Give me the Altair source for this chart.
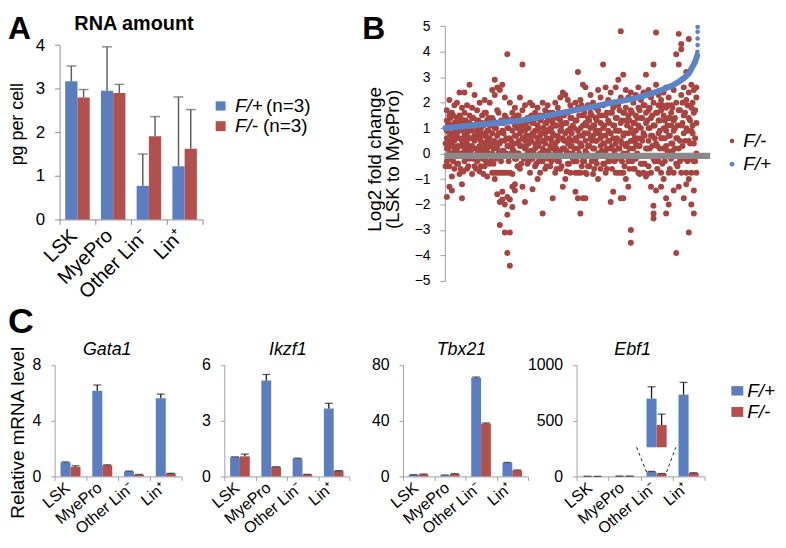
import altair as alt
import pandas as pd

FONT = "Liberation Sans"
BLUE = "#5A7EC0"
RED = "#B3504D"
DOT_RED = "#A8433F"
DOT_BLUE = "#5B83C6"
AXIS_GRAY = "#A0A0A0"
W, H = 776, 532
OX, OY = 8, 8


def px(x):
    return x - OX


def py(y):
    return y - OY


categories = ["LSK", "MyePro", "Other Lin⁻", "Lin⁺"]
genotypes = ["F/+", "F/-"]
color_scale = alt.Scale(domain=genotypes, range=[BLUE, RED])

# ---------------- Panel A : RNA amount ----------------
a_mean_fp = [3.17, 2.95, 0.77, 1.22]
a_upper_fp = [3.52, 3.96, 1.50, 2.81]
a_mean_fm = [2.80, 2.90, 1.91, 1.62]
a_upper_fm = [2.98, 3.10, 2.36, 2.52]

# ---------------- Panel C : relative mRNA ----------------
gata1_fp = [1.00, 6.14, 0.35, 5.60]
gata1_fp_up = [1.04, 6.55, 0.38, 5.90]
gata1_fm = [0.68, 0.80, 0.12, 0.20]
gata1_fm_up = [0.76, 0.83, 0.14, 0.22]

ikzf1_fp = [1.03, 5.15, 0.96, 3.65]
ikzf1_fp_up = [1.05, 5.48, 0.98, 3.93]
ikzf1_fm = [1.08, 0.50, 0.10, 0.30]
ikzf1_fm_up = [1.20, 0.52, 0.11, 0.31]

tbx21_fp = [1.0, 0.7, 70.5, 9.7]
tbx21_fp_up = [1.3, 1.0, 71.2, 10.0]
tbx21_fm = [1.4, 1.7, 37.8, 4.3]
tbx21_fm_up = [1.7, 2.0, 38.3, 4.6]

ebf1_fp = [1.0, 3.0, 42.0, 733.0]
ebf1_fp_up = [1.5, 3.5, 45.0, 842.0]
ebf1_fm = [0.3, 3.0, 24.0, 30.0]
ebf1_fm_up = [0.5, 3.5, 26.0, 33.0]

# inset (zoom of Other Lin- in Ebf1)
inset_base = 261.0
inset_top = [697.0, 460.0]
inset_up = [803.0, 558.0]
inset_line_bottom_x = [2.185, 2.815]
inset_line_top_x = [1.875, 3.10]
inset_line_bottom_y = 40.0

# ---------------- Panel B : scatter ----------------
blue_rank = [0, 10, 20, 30, 40, 50, 60, 65, 70, 75, 80, 85, 90, 93, 95, 96.5, 97.5, 98.5, 99.0, 99.5, 99.8]
blue_val = [1.00, 1.10, 1.20, 1.30, 1.48, 1.68, 1.87, 1.98, 2.07, 2.17, 2.30, 2.47, 2.67, 2.85, 3.00, 3.15, 3.33, 3.50, 3.60, 3.75, 3.85]
blue_tail_rank = [99.9, 100, 100, 100, 100]
blue_tail_val = [4.00, 4.26, 4.52, 4.78, 4.97]

red_bins = [
    [1.7, 0.9, 0.2, -0.3, -1.7, 0.6, 1.3],
    [2.1, 1.5, 0.4, -0.5, -1.3, 0.0, 0.8],
    [1.6, 1.1, 0.3, -0.9, -1.45, 0.7, -0.2],
    [1.9, 0.5, 1.2, 0.1, -0.6, 0.9],
    [1.4, 2.0, 0.2, -0.4, 0.8, 1.0, -0.1],
    [2.4, 1.2, 0.6, 0.0, -0.8, 1.5],
    [1.8, 0.3, -1.2, -1.75, 0.9, 0.5, 1.1],
    [2.4, 1.3, 0.7, -0.3, 0.1, 1.6],
    [1.0, 0.4, -0.6, 1.9, 0.2, 0.8],
    [2.7, 1.5, 0.6, -0.2, 1.2, 0.0],
    [1.8, 0.9, 0.3, -0.8, 1.4, -0.1],
    [2.3, 1.1, 0.5, -0.5, 0.7],
    [1.7, 0.2, 1.3, -0.3, 0.9, 0.0],
    [2.0, 0.6, -0.7, 1.0, 0.3],
    [1.5, 0.1, 0.8, -0.2, 1.2],
    [2.1, 0.4, 1.6, -0.5, 0.7, 0.0],
    [1.3, 0.9, 0.2, -0.9, 0.5],
    [2.0, 1.1, 0.3, -0.4, 0.6],
    [2.5, 1.4, 0.0, 0.8, -0.75],
    [2.9, 2.3, 0.5, -0.75, 1.0, -1.0],
    [2.6, 1.7, 0.2, -0.75, -1.6, 0.7],
    [2.5, 1.2, -0.75, -1.9, -2.8, 0.4],
    [2.7, 0.9, -0.75, -1.5, -1.8, 0.1],
    [2.2, 1.5, -0.75, -2.0, -3.1, 0.5],
    [3.9, 1.0, -0.75, -1.7, -2.4, -3.9, 0.3],
    [2.0, 0.6, -0.75, -1.8, -4.4, -3.1, 1.3],
    [1.6, 0.2, -0.8, -1.3, -2.1, 0.9],
    [1.8, 0.7, -0.2, -1.2, -1.45, 1.1],
    [1.5, 0.4, -0.5, 1.0, 0.0],
    [2.2, 1.2, 0.3, -0.6, 0.8],
    [3.5, 1.7, 0.6, -0.1, -1.3, 1.1],
    [1.9, 0.9, 0.2, -1.9, 0.5],
    [1.4, 0.5, -0.4, 1.0, 0.0],
    [2.0, 1.3, 0.1, -0.75, 0.7],
    [1.9, 0.8, -0.2, -1.4, 1.2],
    [1.6, 0.4, 0.9, -0.5, 0.2],
    [1.8, 1.1, 0.3, -1.0, 0.6],
    [1.5, 0.7, 0.0, -0.75, 1.3],
    [2.0, 0.5, -2.35, -0.3, 1.0, 0.2],
    [1.7, 1.2, 0.4, -0.6, 0.8],
    [1.9, 0.9, 0.1, -0.2, 1.4],
    [1.3, 0.6, -0.5, 0.3, 1.0],
    [1.6, 0.2, -1.75, 0.8, 1.2],
    [2.0, 1.1, 0.4, -0.75, 0.0],
    [1.8, 0.7, -0.3, 1.4, 0.5],
    [2.2, 1.3, 0.1, -0.6, 0.9],
    [2.4, 1.5, 0.6, -1.3, 0.2],
    [2.3, 0.8, -0.1, -1.0, 1.2],
    [2.1, 1.6, 0.4, -0.4, 0.9],
    [1.9, 1.0, 0.3, -0.75, 1.4],
    [1.7, 0.5, -0.2, 1.1, 0.0],
    [2.0, 1.3, 0.6, -0.75, -1.5],
    [3.2, 1.8, 0.9, 0.2, -0.75, -1.75],
    [2.1, 1.0, 0.4, -0.75, -2.35],
    [2.7, 1.5, 0.7, -0.3, -1.75, 1.1],
    [2.6, 1.2, 0.1, -0.75, -1.75, 0.5],
    [1.9, 0.8, 1.4, -0.5, 0.3],
    [2.3, 1.6, 0.6, -0.1, 1.0],
    [2.0, 1.1, 0.2, -0.8, 0.7],
    [1.8, 1.4, 0.5, -0.2, 0.9],
    [2.5, 1.7, 0.8, 0.0, -1.0],
    [2.2, 1.2, 0.3, -0.6, 0.6],
    [3.5, 1.9, 1.0, -0.4, 0.4],
    [2.6, 1.5, 0.7, 0.1, -0.75],
    [2.1, 0.9, 1.3, -0.3, 0.5],
    [2.4, 1.6, 0.2, -1.9, 0.8],
    [1.8, 1.1, 0.6, -1.5, -0.1],
    [2.6, 1.4, 0.4, -0.75, 0.9],
    [2.9, 1.9, 0.9, -0.75, 0.2],
    [4.8, 2.2, 1.2, -0.75, -1.75, 0.5],
    [3.1, 1.6, 0.7, -0.75, -1.75, 0.0],
    [2.5, 1.3, 0.3, -1.0, 1.8],
    [2.2, 0.8, -0.3, -1.3, 1.5],
    [2.4, 1.7, 0.5, -3.0, -3.5, 1.0],
    [2.0, 1.2, 0.2, -0.6, 0.8],
    [2.3, 1.5, 0.9, -0.2, 0.4],
    [2.6, 1.8, 1.1, 0.3, -0.75],
    [2.1, 1.4, 0.6, -0.4, 1.0],
    [2.4, 1.9, 0.8, -0.1, -0.75],
    [3.1, 1.6, 1.2, 0.2, -0.9],
    [2.5, 1.0, 0.5, -0.5, 1.7],
    [2.2, 1.4, 0.7, -0.75, -1.3],
    [3.5, 2.0, 1.1, -0.2, -2.05, -2.35, -2.55],
    [4.75, 2.7, 1.6, 0.4, -1.45],
    [2.3, 1.3, 0.8, -0.3, 1.9],
    [2.1, 1.7, 0.6, -0.75, -1.3],
    [2.4, 1.0, 1.5, -1.0, 0.2],
    [2.6, 1.8, 0.3, -1.75, -2.35, 0.9],
    [2.2, 1.4, 0.7, -0.75, -2.0],
    [1.9, 1.1, 0.4, -0.2, 1.6],
    [2.5, 0.9, 1.3, -0.75, -1.45],
    [3.9, 2.0, 0.6, -0.4, -3.9],
    [4.7, 3.5, 1.7, 0.2, -1.3],
    [4.3, 4.1, 2.3, 1.1, -0.75],
    [2.6, 1.5, 0.8, -0.1, -1.75],
    [3.2, 2.1, 1.0, -0.75, -1.2],
    [4.5, 2.4, 1.4, 0.5, -3.1, -1.0],
    [2.7, 1.8, 0.9, -0.75, -2.0],
    [2.5, 1.6, 0.4, -0.3, -2.35, -1.45],
    [2.6, 2.2, 1.2, 0.0, -0.75],
]
# second set of red points of the dense core (plotted between the ranks above)
red_bins_core = [
    [0.4, 1.0, -0.5], [1.2, 0.2, -0.2], [0.5, 1.4, 0.0], [0.3, 1.5, -0.3], [0.6, 1.2, 0.1],
    [0.3, 0.9, -0.4], [1.4, 0.0, -0.6], [0.4, 1.0, -0.7], [1.3, 0.6, -0.2], [0.9, 0.3, -0.5],
    [0.6, 1.1, 0.1], [1.4, 0.2, -0.2], [0.6, 1.1, -0.6], [1.3, 0.1, 0.8], [0.5, 1.0, -0.5],
    [1.1, 0.2, -0.8], [1.6, 0.7, -0.3], [1.4, 0.9, 0.0], [1.1, 0.4, -0.3], [0.2, 1.3, -0.4],
    [1.0, 0.4, -0.2], [0.8, 0.0, 1.6], [0.5, 1.3, -0.3], [0.8, 0.1, 1.2], [0.6, 1.4, 0.0],
    [0.3, 1.0, -0.3], [0.5, 1.3, 0.0], [0.4, 1.4, 0.1], [0.7, 1.3, -0.2], [0.5, 1.5, 0.0],
    [0.9, 0.3, -0.4], [1.3, 0.6, -0.2], [0.7, 1.2, 0.3], [0.4, 1.0, -0.3], [0.5, 1.5, 0.1],
    [1.2, 0.7, 0.0], [0.9, 1.4, -0.4], [0.4, 1.0, -0.3], [0.8, 1.4, -0.1], [1.5, 0.1, 1.0],
    [0.6, 1.2, -0.5], [0.9, 0.0, 1.6], [0.5, 1.0, -0.3], [0.7, 1.4, -0.2], [1.1, 0.2, -0.6],
    [0.6, 1.6, -0.3], [0.9, 1.1, -0.5], [0.5, 1.5, 0.2], [1.2, 0.1, -0.7], [0.6, 0.0, -0.4],
    [0.8, 1.4, 0.3], [1.0, 0.2, -0.3], [0.5, 1.3, -0.3], [1.5, 0.7, 0.0], [0.3, 1.9, -0.5],
    [0.8, 1.6, -0.3], [1.1, 0.0, -0.8], [0.3, 1.3, -0.5], [1.5, 0.5, -0.3], [0.2, 1.1, -0.6],
    [0.5, 1.3, -0.4], [1.5, 0.9, 0.0], [1.5, 0.7, 0.1], [1.1, 0.4, -0.4], [1.6, 0.2, -0.6],
    [1.2, 0.5, -0.3], [1.6, 0.3, -0.6], [1.1, 0.1, -0.3], [1.4, 0.6, -0.2], [1.7, 0.9, 0.2],
    [1.3, 0.4, -0.3], [0.8, 1.6, -0.5], [1.1, 0.4, 0.0], [1.3, 0.2, -0.6], [1.6, 0.5, -0.3],
    [1.2, 0.6, -0.6], [1.4, 0.6, 0.0], [1.7, 0.3, -0.8], [1.4, 0.5, -0.4], [1.9, 0.7, -0.4],
    [1.3, 0.2, -0.8], [1.8, 1.0, 0.2], [1.5, 0.7, 0.3], [1.1, 0.6, -0.3], [1.6, 0.3, -0.6],
    [1.3, 0.9, 0.2], [1.9, 0.6, -0.4], [1.3, 0.6, -0.3], [1.9, 1.1, 0.1], [1.4, 0.7, -0.6],
    [1.8, 0.4, 0.1], [1.4, 1.0, 0.2], [1.1, 0.6, -0.5], [1.7, 0.5, -0.3], [2.0, 1.2, 0.3],
    [1.6, 0.5, -0.2], [1.9, 0.9, -0.3], [1.3, 0.4, -0.2], [2.0, 1.1, 0.8], [1.7, 0.6, -0.3],
]
zero_line_x = [-0.5, 105.0]
zero_line_y = [-0.09, -0.09]


# ---------------- helpers ----------------
def text(t, x, y, size, weight="normal", style="normal", angle=0, align="left", baseline="middle"):
    return alt.Chart(pd.DataFrame({"t": [t]})).mark_text(
        font=FONT, fontSize=size, fontWeight=weight, fontStyle=style,
        angle=angle, align=align, baseline=baseline, color="black"
    ).encode(text="t:N", x=alt.value(x), y=alt.value(y))


def rect(x0, x1, y0, y1, color):
    return alt.Chart(pd.DataFrame({"a": [0]})).mark_rect(color=color).encode(
        x=alt.value(x0), x2=alt.value(x1), y=alt.value(y0), y2=alt.value(y1))


def dot(x, y, color, size):
    return alt.Chart(pd.DataFrame({"a": [0]})).mark_circle(color=color, size=size, opacity=1).encode(
        x=alt.value(x), y=alt.value(y))


def bar_panel(fp, fp_up, fm, fm_up, x0, x1, ytop, ybot, ydom, yticks, off_pad,
              lab_size, xlab_size, tick_len, err_color, err_w, cap_w, axis_color,
              xlab_angle, xlab_offset, xlab_pad, extra=None):
    df = pd.DataFrame({
        "cat": categories * 2,
        "geno": [genotypes[0]] * 4 + [genotypes[1]] * 4,
        "val": fp + fm,
        "up": fp_up + fm_up,
    })
    xs = alt.Scale(domain=categories, range=[px(x0), px(x1)], paddingInner=0, paddingOuter=0)
    xo = alt.Scale(domain=genotypes, paddingInner=0, paddingOuter=off_pad)
    ys = alt.Scale(domain=ydom, range=[py(ybot), py(ytop)], nice=False, zero=False)
    xax = alt.Axis(orient="bottom", offset=py(ybot) - H, title=None, labelAngle=xlab_angle,
                   labelAlign="right", labelBaseline="middle", labelOffset=xlab_offset,
                   tickBand="extent", tickSize=tick_len, labelFontSize=xlab_size, labelFont=FONT,
                   labelColor="black", domainColor=axis_color, tickColor=axis_color,
                   labelPadding=xlab_pad, grid=False, labelOverlap=False)
    yax = alt.Axis(orient="left", offset=-px(x0), title=None, values=yticks, tickSize=tick_len,
                   labelFontSize=lab_size, labelFont=FONT, labelColor="black", format="d",
                   domainColor=axis_color, tickColor=axis_color, labelPadding=10, grid=False)
    X = alt.X("cat:N", scale=xs, sort=categories, axis=xax)
    XO = alt.XOffset("geno:N", scale=xo, sort=genotypes)
    col = alt.Color("geno:N", scale=color_scale, legend=None)
    base = alt.Chart(df)
    bars = base.mark_bar().encode(x=X, xOffset=XO, y=alt.Y("val:Q", scale=ys, axis=yax), color=col)
    rules = base.mark_rule(color=err_color, strokeWidth=err_w).encode(
        x=X, xOffset=XO, y=alt.Y("val:Q", scale=ys, axis=yax), y2="up:Q")
    caps = base.mark_tick(color=err_color, thickness=err_w, size=cap_w).encode(
        x=X, xOffset=XO, y=alt.Y("up:Q", scale=ys, axis=yax))
    layers = [bars, rules, caps]
    if extra is not None:
        idf = pd.DataFrame({"cat": [categories[2]] * 2, "geno": genotypes,
                            "top": inset_top, "base": [inset_base] * 2, "up": inset_up})
        ib = alt.Chart(idf)
        layers += [
            ib.mark_bar().encode(x=X, xOffset=XO, y=alt.Y("top:Q", scale=ys, axis=yax), y2="base:Q", color=col),
            ib.mark_rule(color=err_color, strokeWidth=err_w).encode(
                x=X, xOffset=XO, y=alt.Y("top:Q", scale=ys, axis=yax), y2="up:Q"),
            ib.mark_tick(color=err_color, thickness=err_w, size=cap_w).encode(
                x=X, xOffset=XO, y=alt.Y("up:Q", scale=ys, axis=yax)),
        ]
    return alt.layer(*layers)


# ---------------- Panel A ----------------
panelA = bar_panel(a_mean_fp, a_upper_fp, a_mean_fm, a_upper_fm, 60, 204, 43.3, 219, [0, 4],
                   [0, 1, 2, 3, 4], 0.457, 17, 20, 5, "#606060", 1.5, 10, "#8C8C8C",
                   xlab_angle=-45, xlab_offset=-4, xlab_pad=8)

# ---------------- Panel B ----------------
red_rank, red_val = [], []
for i, vals in enumerate(red_bins):
    for v in vals:
        red_rank.append(i + 0.5)
        red_val.append(v)
for i, vals in enumerate(red_bins_core):
    for v in vals:
        red_rank.append(i + 0.0)
        red_val.append(v)
red_df = pd.DataFrame({"rank": red_rank, "val": red_val})
blue_df = pd.DataFrame({"rank": blue_rank, "val": blue_val})
tail_df = pd.DataFrame({"rank": blue_tail_rank, "val": blue_tail_val})
zero_df = pd.DataFrame({"rank": zero_line_x, "val": zero_line_y})

bx = alt.Scale(domain=[0, 100], range=[px(449), px(703)], nice=False, zero=False)
by = alt.Scale(domain=[-5, 5], range=[py(281), py(24.3)], nice=False, zero=False)
byax = alt.Axis(orient="left", offset=-px(448.3), title=None, values=list(range(-5, 6)), tickSize=5,
                labelFontSize=14, labelFont=FONT, labelColor="black", domainColor=AXIS_GRAY,
                tickColor=AXIS_GRAY, labelPadding=10, grid=False)
BX = alt.X("rank:Q", scale=bx, axis=None)
BY = alt.Y("val:Q", scale=by, axis=byax)
b_red = alt.Chart(red_df).mark_circle(size=36, opacity=1, color=DOT_RED).encode(x=BX, y=BY)
b_zero = alt.Chart(zero_df).mark_line(color="#8A8A8A", strokeWidth=6.5).encode(x=BX, y=BY)
b_blue = alt.Chart(blue_df).mark_line(color=DOT_BLUE, strokeWidth=6, strokeCap="round").encode(x=BX, y=BY)
b_tail = alt.Chart(tail_df).mark_circle(size=22, opacity=1, color=DOT_BLUE).encode(x=BX, y=BY)
panelB = alt.layer(b_red, b_zero, b_blue, b_tail)

# ---------------- Panel C ----------------
CT, CB = 365.5, 478
common = dict(off_pad=0.59, lab_size=16, xlab_size=16, tick_len=4, err_color="#1A1A1A",
              err_w=1.3, cap_w=8, axis_color=AXIS_GRAY, xlab_angle=-40, xlab_offset=-3, xlab_pad=5)
c1 = bar_panel(gata1_fp, gata1_fp_up, gata1_fm, gata1_fm_up, 55, 183, CT, CB, [0, 8], [0, 4, 8], **common)
c2 = bar_panel(ikzf1_fp, ikzf1_fp_up, ikzf1_fm, ikzf1_fm_up, 226, 352, CT, CB, [0, 6], [0, 3, 6], **common)
c3 = bar_panel(tbx21_fp, tbx21_fp_up, tbx21_fm, tbx21_fm_up, 406, 532, CT, CB, [0, 80], [0, 40, 80], **common)
c4 = bar_panel(ebf1_fp, ebf1_fp_up, ebf1_fm, ebf1_fm_up, 581, 710, CT, CB, [0, 1000], [0, 500, 1000],
               extra=True, **common)

dash_df = pd.DataFrame({
    "x": [inset_line_bottom_x[0], inset_line_top_x[0], inset_line_bottom_x[1], inset_line_top_x[1]],
    "y": [inset_line_bottom_y, inset_base, inset_line_bottom_y, inset_base],
    "side": ["l", "l", "r", "r"],
})
dash = alt.Chart(dash_df).mark_line(color="#222222", strokeWidth=1, strokeDash=[3, 3]).encode(
    x=alt.X("x:Q", scale=alt.Scale(domain=[0, 4], range=[px(581), px(710)], nice=False, zero=False), axis=None),
    y=alt.Y("y:Q", scale=alt.Scale(domain=[0, 1000], range=[py(CB), py(CT)], nice=False, zero=False), axis=None),
    detail="side:N")

# ---------------- texts & legends ----------------
texts = [
    text("A", 0, 29, 32, weight="bold", baseline="alphabetic"),
    text("RNA amount", 127, 14.5, 20, weight="bold", align="center"),
    text("pg per cell", 10, 115, 18, angle=270, align="center"),
    rect(209.3, 219.3, 92, 101.3, BLUE),
    rect(209.3, 219.3, 112, 122, RED),
    text("F/+", 228.7, 96.7, 19, style="italic"),
    text("(n=3)", 260, 96.7, 19),
    text("F/-", 228.7, 117, 19, style="italic"),
    text("(n=3)", 257, 117, 19),
    text("B", 357, 29, 32, weight="bold", baseline="alphabetic"),
    text("Log2 fold change", 370, 150.5, 19, angle=270, align="center"),
    text("(LSK to MyePro)", 388.5, 150.5, 19, angle=270, align="center"),
    dot(729.7, 132, DOT_RED, 22),
    dot(729.7, 155.3, DOT_BLUE, 22),
    text("F/-", 741, 132, 19, style="italic"),
    text("F/+", 741, 155.3, 19, style="italic"),
    text("C", 0, 325, 36, weight="bold", baseline="alphabetic"),
    text("Relative mRNA level", 10, 426, 19, angle=270, align="center"),
    text("Gata1", 100, 343, 18, style="italic", align="center"),
    text("Ikzf1", 282, 343, 18, style="italic", align="center"),
    text("Tbx21", 457, 343, 18, style="italic", align="center"),
    text("Ebf1", 629.5, 343, 18, style="italic", align="center"),
    rect(729, 741, 379, 388.5, BLUE),
    rect(729, 741, 400, 410, RED),
    text("F/+", 745, 383.7, 19, style="italic"),
    text("F/-", 745, 405, 19, style="italic"),
]

chart = alt.layer(panelA, panelB, c1, c2, c3, c4, dash, *texts).resolve_scale(
    x="independent", y="independent", xOffset="independent"
).properties(
    width=W, height=H, autosize=alt.AutoSizeParams(type="none"), padding=0
).configure_view(stroke=None).configure_axis(grid=False)

chart.save("out.html", embed_options={"renderer": "svg", "actions": False})
